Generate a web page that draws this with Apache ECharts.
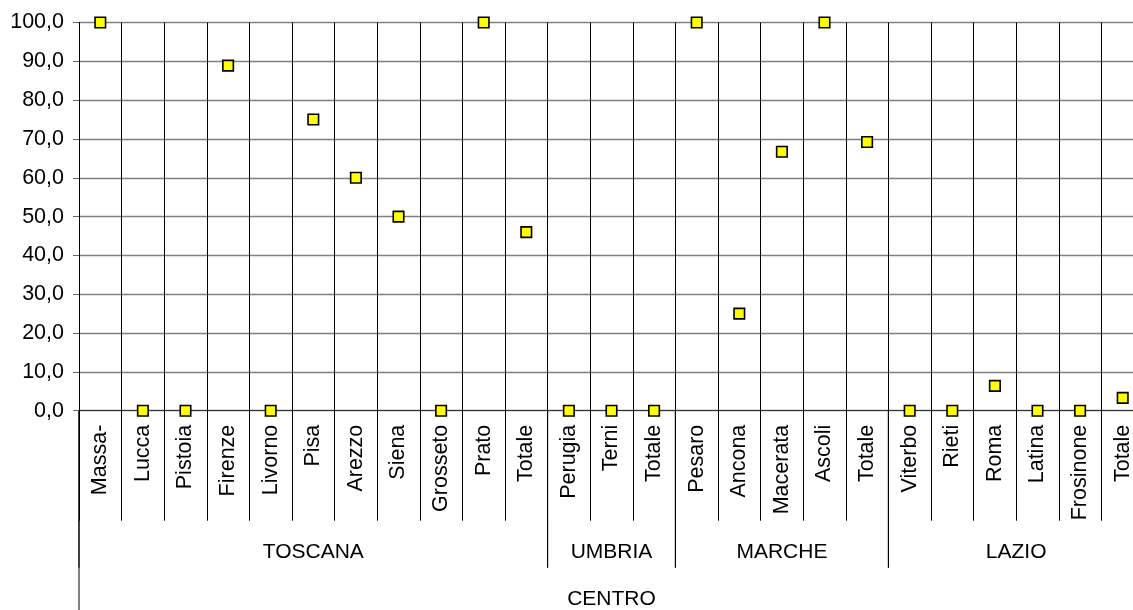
<!DOCTYPE html>
<html>
<head>
<meta charset="utf-8">
<script src="https://cdn.jsdelivr.net/npm/echarts@6/dist/echarts.min.js"></script>
<style>html,body{margin:0;padding:0;background:#fff;overflow:hidden;}#c{width:1133px;height:610px;}</style>
</head>
<body>
<div id="c"></div>
<script>
const categories = ['Massa-','Lucca','Pistoia','Firenze','Livorno','Pisa','Arezzo','Siena','Grosseto','Prato','Totale','Perugia','Terni','Totale','Pesaro','Ancona','Macerata','Ascoli','Totale','Viterbo','Rieti','Roma','Latina','Frosinone','Totale'];
const values = [100,0,0,88.9,0,75,60,50,0,100,46.0,0,0,0,100,25,66.7,100,69.2,0,0,6.4,0,0,3.3];
const regions = ['TOSCANA','UMBRIA','MARCHE','LAZIO'];
const regionSizes = [11,3,5,6];
const macroRegion = 'CENTRO';
const yTicks = [0,10,20,30,40,50,60,70,80,90,100];

const FONT = '"Liberation Sans", Arial, sans-serif';

// group spans [startIdx, endIdx, level]
const groupData = [];
let s = 0;
regions.forEach((r, i) => { groupData.push([s, s + regionSizes[i] - 1, 0]); s += regionSizes[i]; });
groupData.push([0, categories.length - 1, 1]);
const groupNames = regions.concat([macroRegion]);

const chart = echarts.init(document.getElementById('c'), null, {renderer: 'canvas'});
chart.setOption({
  animation: false,
  grid: {left: 79, top: 22.5, width: 1065, bottom: 199.3, containLabel: false, outerBoundsMode: 'none'},
  xAxis: {
    type: 'category',
    data: categories,
    boundaryGap: true,
    axisLine: {show: true, lineStyle: {color: '#333', width: 1.2}},
    axisTick: {show: true, interval: 0, length: 110, lineStyle: {color: '#000', width: 1}},
    axisLabel: {interval: 0, rotate: 90, margin: 14, fontFamily: FONT, fontSize: 21.5, color: '#000'},
    splitLine: {show: true, interval: 0, lineStyle: {color: '#000', width: 1}}
  },
  yAxis: {
    type: 'value',
    min: yTicks[0], max: yTicks[yTicks.length - 1], interval: 10,
    axisLine: {show: true, lineStyle: {color: '#000', width: 1}},
    axisTick: {show: true, length: 6, lineStyle: {color: '#666'}},
    axisLabel: {margin: 15, fontFamily: FONT, fontSize: 21.5, color: '#000',
      formatter: v => v.toFixed(1).replace('.', ',')},
    splitLine: {show: true, lineStyle: {color: '#808080', width: 1.3}}
  },
  series: [
    {
      type: 'scatter',
      data: values,
      symbol: 'rect',
      symbolSize: 10.5,
      itemStyle: {color: '#FFFF00', borderColor: '#000', borderWidth: 1.6, opacity: 1},
      z: 5
    },
    {
      type: 'custom',
      clip: false,
      silent: true,
      data: groupData,
      encode: {x: 0},
      renderItem: function (params, api) {
        const st = api.value(0), en = api.value(1), lvl = api.value(2);
        const bw = api.size([1, 0])[0];
        const p0 = api.coord([st, 0]);
        const p1 = api.coord([en, 0]);
        const x0 = p0[0] - bw / 2, x1 = p1[0] + bw / 2;
        const y0 = p0[1];
        const lineEnd = lvl === 0 ? y0 + 157 : y0 + 200;
        const textY = lvl === 0 ? y0 + 142 : y0 + 189;
        return {
          type: 'group',
          children: [
            {type: 'line', shape: {x1: x0, y1: y0, x2: x0, y2: lineEnd}, style: {stroke: '#000', lineWidth: 1}},
            {type: 'line', shape: {x1: x1, y1: y0, x2: x1, y2: lineEnd}, style: {stroke: '#000', lineWidth: 1}},
            {type: 'text', style: {text: groupNames[params.dataIndex], x: (x0 + x1) / 2, y: textY,
              align: 'center', verticalAlign: 'middle', fill: '#000', font: '21px ' + FONT}}
          ]
        };
      },
      z: 3
    }
  ]
});
</script>
</body>
</html>
